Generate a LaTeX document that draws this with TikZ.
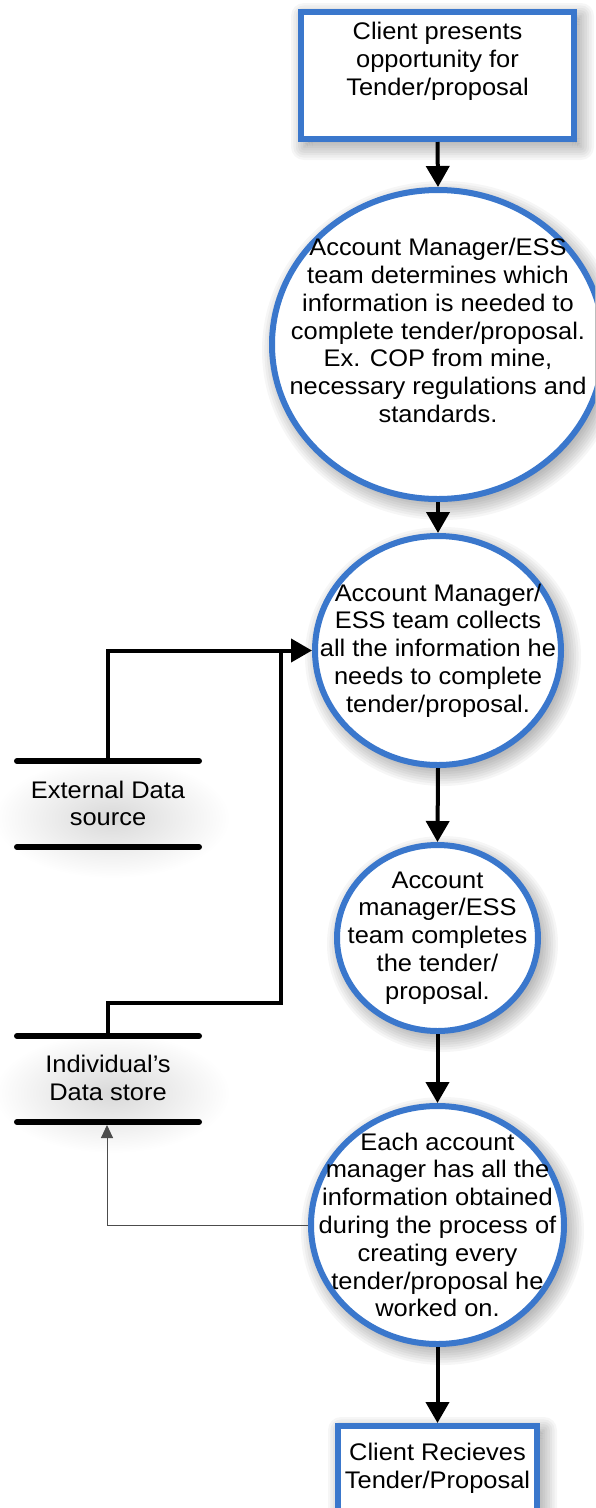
\documentclass[tikz,border=0pt]{standalone}
\usepackage{fontspec}
\setmainfont{Liberation Sans}[FakeStretch=1.06]
\usetikzlibrary{shapes.geometric,arrows.meta,calc,backgrounds}
\definecolor{dfdblue}{HTML}{3A77CC}
\newcommand\softell[3]{%
  \foreach \k in {0,...,9}{%
    \fill[black,opacity=0.035] ([xshift=5pt,yshift=-6pt]#1.center)
      ellipse [x radius={#2pt+12pt-2.4pt*\k}, y radius={#3pt+12pt-2.4pt*\k}];}}
\newcommand\softbox[1]{%
  \foreach \k in {0,...,9}{%
    \pgfmathsetmacro\e{12-2.4*\k}%
    \fill[black,opacity=0.035,rounded corners={(\e+1)*1pt}]
      ($(#1.south west)+(5-\e,6+\e)$) rectangle ($(#1.north east)+(5+\e,6-\e)$);}}
\begin{document}
\begin{tikzpicture}[x=1pt,y=-1pt,
  txt/.style={font=\fontsize{24}{27.8}\selectfont, align=center, inner sep=0pt},
  proc/.style={ellipse, draw=dfdblue, line width=6pt, fill=white, inner sep=0pt},
  term/.style={rectangle, draw=dfdblue, line width=6pt, fill=white, inner sep=0pt},
  flow/.style={line width=4pt, -{Triangle[length=21pt,width=23pt]}},
  link/.style={line width=4pt},
  thinflow/.style={line width=1pt, draw=black!70, -{Triangle[length=13pt,width=12pt]}},
  storeline/.style={line width=6pt, line cap=round}
]
\useasboundingbox (0,0) rectangle (595,1508);
\begin{scope}
\clip (0,0) rectangle (595,1508);

% terminators
\node[term, minimum width=273pt, minimum height=127pt,
  label={[txt, anchor=center, yshift=14.5pt]center:{Client presents\\opportunity for\\Tender/proposal}}]
  (t1) at (437.5,75.5) {};
\node[term, minimum width=199pt, minimum height=127pt,
  label={[txt, anchor=center, yshift=21pt]center:{Client Recieves\\Tender/Proposal}}]
  (t2) at (437.5,1489.5) {};

% processes
\node[proc, minimum width=332pt, minimum height=309pt,
  label={[txt, anchor=center, yshift=14pt]center:{Account Manager/ESS\\team determines which\\information is needed to\\complete tender/proposal.\\Ex. COP from mine,\\necessary regulations and\\standards.}}]
  (c1) at (438,344.5) {};
\node[proc, minimum width=246pt, minimum height=229pt,
  label={[txt, anchor=center]center:{Account Manager/\\ESS team collects\\all the information he\\needs to complete\\tender/proposal.}}]
  (c2) at (438,650.5) {};
\node[proc, minimum width=201pt, minimum height=186pt,
  label={[txt, anchor=center]center:{Account\\manager/ESS\\team completes\\the tender/\\proposal.}}]
  (c3) at (437.5,938) {};
\node[proc, minimum width=253pt, minimum height=238pt,
  label={[txt, anchor=center]center:{Each account\\manager has all the\\information obtained\\during the process of\\creating every\\tender/proposal he\\worked on.}}]
  (c4) at (437.5,1225) {};

% data stores
\node[txt] (ext) at (108,803.5) {External Data\\source};
\node[txt] (ind) at (108,1078) {Individual’s\\Data store};
\coordinate (e1) at (17,761);  \coordinate (e2) at (199,761);
\coordinate (e3) at (17,847);  \coordinate (e4) at (199,847);
\coordinate (i1) at (17,1036); \coordinate (i2) at (199,1036);
\coordinate (i3) at (17,1122); \coordinate (i4) at (199,1122);
\draw[storeline] (e1) -- (e2);
\draw[storeline] (e3) -- (e4);
\draw[storeline] (i1) -- (i2);
\draw[storeline] (i3) -- (i4);

\coordinate (extTop) at (108,761);
\coordinate (indTop) at (108,1036);
\coordinate (indBot) at (107,1125);
\coordinate (j1) at (108,1003);
\coordinate (j2) at (281,1003);
\coordinate (j3) at (281,650.5);

% flows
\draw[flow] (t1.south) -- (c1.north);
\draw[flow] (c1.south) -- (c2.north);
\draw[flow] (c2.south) -- (c3.north);
\draw[flow] (c3.south) -- (c4.north);
\draw[flow] (c4.south) -- (t2.north);
\draw[flow] (extTop) |- (c2.west);
\draw[link] (indTop) -- (j1) -- (j2) -- (j3);
\draw[thinflow] (c4.west) -| (indBot);

\begin{pgfonlayer}{background}
\fill[white] (0,0) rectangle (595,1508);
\shade[inner color=black!15, outer color=white] (112,818) ellipse [x radius=118pt, y radius=60pt];
\shade[inner color=black!15, outer color=white] (112,1093) ellipse [x radius=118pt, y radius=60pt];
\softbox{t1}
\softbox{t2}
\softell{c1}{169}{157.5}
\softell{c2}{126}{117.5}
\softell{c3}{103.5}{96}
\softell{c4}{129.5}{122}
\end{pgfonlayer}
\end{scope}
\end{tikzpicture}
\end{document}
